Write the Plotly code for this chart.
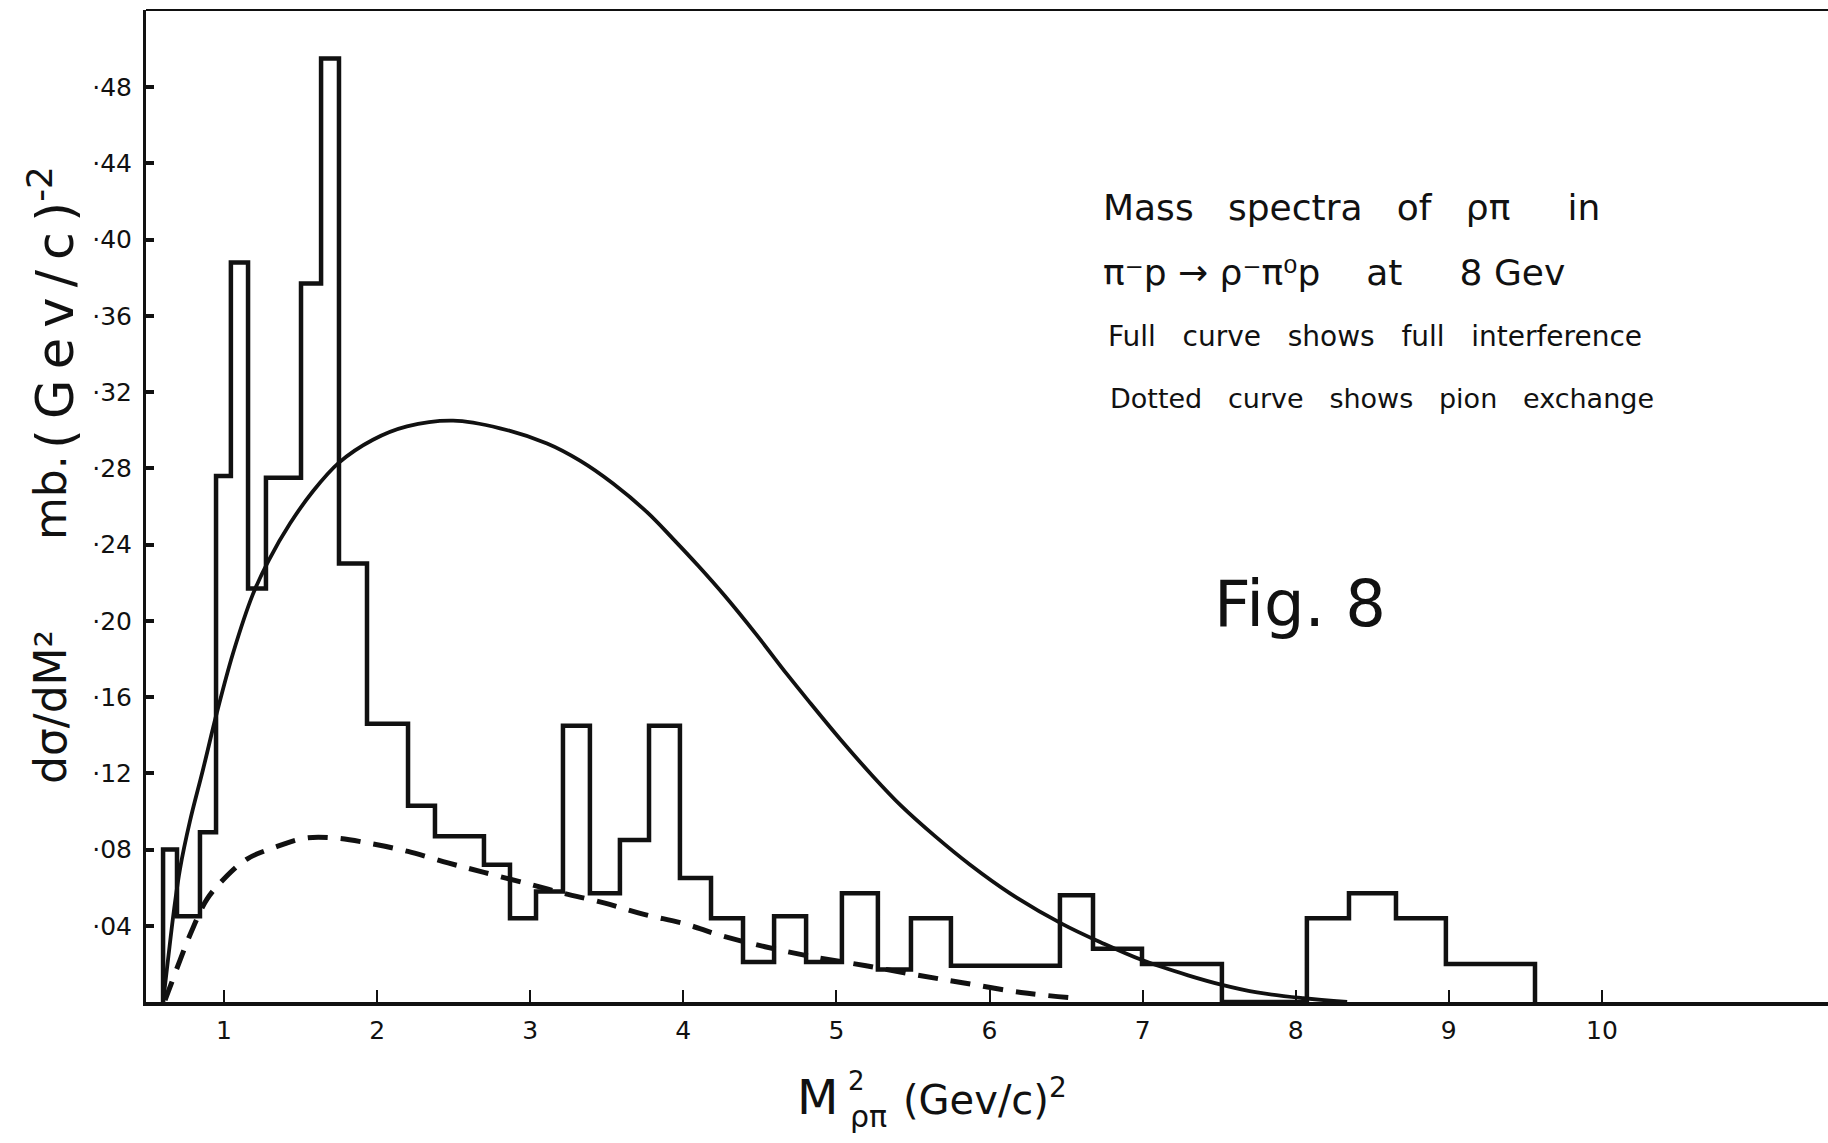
import plotly.graph_objects as go

# ---- data ----
bin_edges = [0.602, 0.693, 0.843, 0.948, 1.045, 1.157, 1.274, 1.503, 1.634, 1.751,
             1.934, 2.202, 2.378, 2.698, 2.868, 3.038, 3.214, 3.390, 3.586, 3.776,
             3.978, 4.181, 4.390, 4.593, 4.802, 5.036, 5.271, 5.487, 5.748, 6.460,
             6.676, 6.996, 7.518, 8.073, 8.348, 8.655, 8.981, 9.563]
bin_values = [0.080, 0.045, 0.089, 0.276, 0.388, 0.217, 0.275, 0.377, 0.495,
              0.230, 0.146, 0.103, 0.087, 0.072, 0.044, 0.058, 0.145, 0.057, 0.085,
              0.145, 0.065, 0.044, 0.021, 0.045, 0.021, 0.057, 0.017, 0.044, 0.019,
              0.056, 0.028, 0.020, 0.000, 0.044, 0.057, 0.044, 0.020]

full_x = [0.602, 0.634, 0.673, 0.713, 0.778, 0.863, 0.954, 1.059, 1.189, 1.294,
          1.431, 1.581, 1.751, 1.973, 2.195, 2.496, 2.803, 3.110, 3.325, 3.541,
          3.763, 3.933, 4.096, 4.272, 4.475, 4.677, 4.828, 5.024, 5.232, 5.422,
          5.644, 5.873, 6.134, 6.474, 6.735, 6.996, 7.297, 7.519, 7.748, 8.048, 8.336]
full_y = [0.000, 0.022, 0.048, 0.070, 0.095, 0.122, 0.152, 0.183, 0.214, 0.232,
          0.251, 0.268, 0.283, 0.295, 0.302, 0.305, 0.301, 0.293, 0.284, 0.272,
          0.257, 0.243, 0.229, 0.213, 0.193, 0.172, 0.157, 0.138, 0.119, 0.103,
          0.087, 0.072, 0.057, 0.041, 0.031, 0.022, 0.014, 0.009, 0.005, 0.002, 0.000]

pion_x = [0.615, 0.634, 0.713, 0.798, 0.889, 0.993, 1.150, 1.327, 1.529, 1.732,
          1.966, 2.202, 2.463, 2.698, 2.986, 3.221, 3.482, 3.743, 4.011, 4.240,
          4.534, 4.828, 5.194, 5.534, 5.834, 6.206, 6.559]
pion_y = [0.001, 0.005, 0.022, 0.039, 0.054, 0.064, 0.075, 0.081, 0.086, 0.086,
          0.083, 0.079, 0.073, 0.068, 0.062, 0.057, 0.052, 0.046, 0.041, 0.035,
          0.029, 0.024, 0.019, 0.014, 0.010, 0.005, 0.002]

x_ticks = [1, 2, 3, 4, 5, 6, 7, 8, 9, 10]
x_tick_labels = ["1", "2", "3", "4", "5", "6", "7", "8", "9", "10"]
y_ticks = [0.04, 0.08, 0.12, 0.16, 0.20, 0.24, 0.28, 0.32, 0.36, 0.40, 0.44, 0.48]
y_tick_labels = ["·04", "·08", "·12", "·16", "·20", "·24", "·28", "·32", "·36",
                 "·40", "·44", "·48"]

# ---- figure geometry ----
W, H = 1828, 1143
L, R, T, B = 146, 0, 10, 141
PW, PH = W - L - R, H - T - B
FONT = "DejaVu Sans"
INK = "#111111"


def px(xp):
    return (xp - L) / PW


def py(yp):
    return (H - B - yp) / PH


# histogram outline via step line
hx = [bin_edges[0]] + bin_edges[:-1] + [bin_edges[-1]]
hy = [0] + bin_values + [0]

fig = go.Figure()
fig.add_trace(go.Scatter(x=hx, y=hy, mode="lines", line=dict(shape="hv", color=INK, width=4.5),
                         showlegend=False, hoverinfo="skip"))
fig.add_trace(go.Scatter(x=full_x, y=full_y, mode="lines",
                         line=dict(shape="spline", smoothing=1.0, color=INK, width=3.8),
                         showlegend=False, hoverinfo="skip"))
fig.add_trace(go.Scatter(x=pion_x, y=pion_y, mode="lines",
                         line=dict(shape="spline", smoothing=1.0, color=INK, width=5, dash="20px,13px"),
                         showlegend=False, hoverinfo="skip"))

ann = []


def text(xp, yp, s, size, anchor="left", angle=0):
    ann.append(dict(x=px(xp), y=py(yp), xref="paper", yref="paper", text=s, showarrow=False,
                    xanchor=anchor, yanchor="middle", textangle=angle,
                    font=dict(family=FONT, size=size, color=INK)))


NB = "\u00a0"
TH = "\u2009"
text(1101, 207, f"Mass{NB*3}spectra{NB*3}of{NB*3}ρπ{NB*5}in", 36)
text(1101, 272, f"π⁻p{NB}→{NB}ρ⁻π⁰p{NB*4}at{NB*5}8{NB}Gev", 36)
text(1106, 337, f"Full{NB*3}curve{NB*3}shows{NB*3}full{NB*3}interference", 28)
text(1108, 398, f"Dotted{NB*3}curve{NB*3}shows{NB*3}pion{NB*3}exchange", 27)
text(1300, 604, "Fig. 8", 64, anchor="center")

# axis titles
text(817, 1097, "M", 48, anchor="center")
text(856, 1081, "2", 26, anchor="center")
text(868, 1116, "ρπ", 30, anchor="center")
text(985, 1097, "(Gev/c)<sup>2</sup>", 40, anchor="center")
text(50, 707, "dσ/dM²", 44, anchor="center", angle=-90)
text(50, 498, "mb.", 44, anchor="center", angle=-90)
gev = TH.join("(Gev/c)")
text(52, 308, f"{gev}<sup>-2</sup>", 51, anchor="center", angle=-90)

fig.update_layout(
    width=W, height=H,
    margin=dict(l=L, r=R, t=T, b=B, pad=0),
    paper_bgcolor="white", plot_bgcolor="white",
    annotations=ann,
    shapes=[dict(type="line", xref="paper", yref="paper", x0=0, x1=1, y0=1, y1=1,
                 line=dict(color=INK, width=2))],
    xaxis=dict(range=[(L - 70.9) / 153.1, (W - 70.9) / 153.1], showgrid=False, zeroline=False,
               showline=True, linecolor=INK, linewidth=4, ticks="inside", ticklen=12, tickwidth=2,
               tickcolor=INK, tickvals=x_ticks, ticktext=x_tick_labels, ticklabelstandoff=3,
               tickfont=dict(family=FONT, size=25, color=INK)),
    yaxis=dict(range=[0, (H - B - T) / 1906], showgrid=False, zeroline=False,
               showline=True, linecolor=INK, linewidth=3, ticks="inside", ticklen=8, tickwidth=4,
               tickcolor=INK, tickvals=y_ticks, ticktext=y_tick_labels, ticklabelstandoff=6,
               tickfont=dict(family=FONT, size=25, color=INK)),
)

fig.write_html("out.html")
